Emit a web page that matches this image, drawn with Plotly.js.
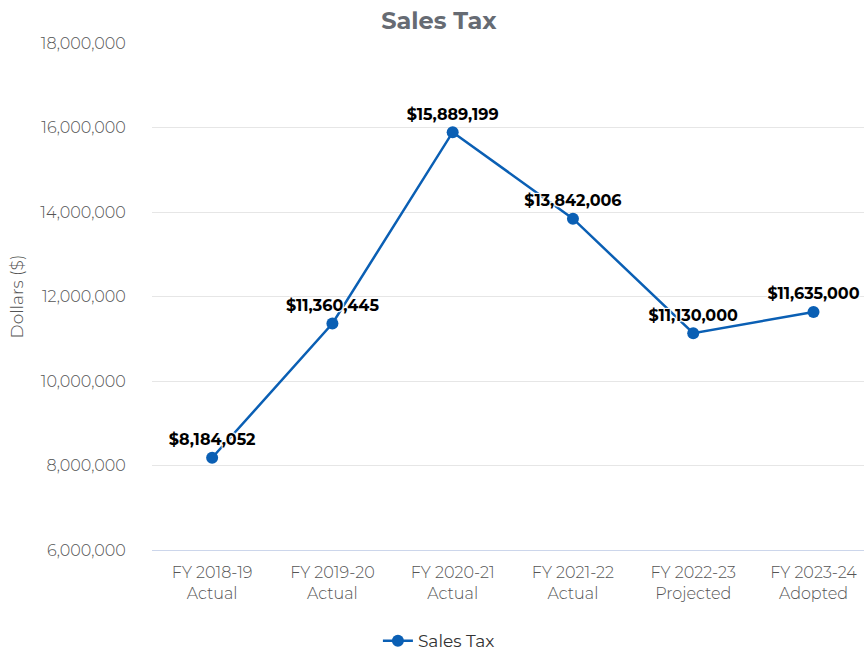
<!DOCTYPE html>
<html>
<head>
<meta charset="utf-8">
<script src="https://cdn.plot.ly/plotly-3.0.1.min.js"></script>
<style>html,body{margin:0;padding:0;background:#fff;}#chart{width:864px;height:651px;}</style>
</head>
<body>
<div id="chart"></div>
<script>
const categories = ["FY 2018-19<br>Actual", "FY 2019-20<br>Actual", "FY 2020-21<br>Actual", "FY 2021-22<br>Actual", "FY 2022-23<br>Projected", "FY 2023-24<br>Adopted"];
const salesTax = [8184052, 11360445, 15889199, 13842006, 11130000, 11635000];
const seriesName = "Sales Tax";
const yTicks = [6000000, 8000000, 10000000, 12000000, 14000000, 16000000, 18000000];

const FONT = "Montserrat, 'Open Sans', sans-serif";
const labels = salesTax.map(v => "$" + v.toLocaleString("en-US"));
const halo = "1px 1px 1px #fff, -1px -1px 1px #fff, 1px -1px 1px #fff, -1px 1px 1px #fff";

const trace = {
  x: [0,1,2,3,4,5],
  y: salesTax,
  name: seriesName,
  type: "scatter",
  mode: "lines+markers+text",
  line: {color: "#0a5fb4", width: 2.5},
  marker: {color: "#0a5fb4", size: 12},
  text: labels,
  textposition: "top center",
  textfont: {family: FONT, size: 16, color: "#000", weight: 700, shadow: halo},
  cliponaxis: false,
  hoverinfo: "none"
};

const layout = {
  width: 864, height: 651,
  margin: {l: 152, r: 0, t: 43, b: 101},
  paper_bgcolor: "#fff", plot_bgcolor: "#fff",
  font: {family: FONT},
  title: {text: "Sales Tax", font: {family: FONT, size: 24, color: "#666b73", weight: 700}, x: 0.508, xref: "container", xanchor: "center", y: 0.968, yref: "container", yanchor: "middle"},
  xaxis: {
    range: [-0.5, 5.42],
    tickvals: [0,1,2,3,4,5],
    ticktext: categories,
    showgrid: false, zeroline: false,
    showline: true, linecolor: "#ccd6eb", linewidth: 1,
    ticks: "outside", ticklen: 8, tickcolor: "rgba(0,0,0,0)",
    tickfont: {family: FONT, size: 16, color: "#555555", weight: 300}
  },
  yaxis: {
    range: [6000000, 18000000],
    tickvals: yTicks,
    ticktext: yTicks.map(v => v.toLocaleString("en-US")),
    showgrid: true, gridcolor: "#e6e6e6", gridwidth: 1,
    zeroline: false, showline: false,
    ticks: "outside", ticklen: 22, tickcolor: "rgba(0,0,0,0)",
    tickfont: {family: FONT, size: 16, color: "#555555", weight: 300},
    title: {text: "Dollars ($)", font: {family: FONT, size: 17, color: "#555555", weight: 300}, standoff: 12}
  },
  showlegend: true,
  legend: {orientation: "h", x: 0.508, xref: "container", xanchor: "center", y: 0.015, yref: "container", yanchor: "middle",
    font: {family: FONT, size: 17, color: "#333333", weight: 400}},
};

Plotly.newPlot("chart", [trace], layout, {displayModeBar: false, staticPlot: true});
</script>
</body>
</html>
